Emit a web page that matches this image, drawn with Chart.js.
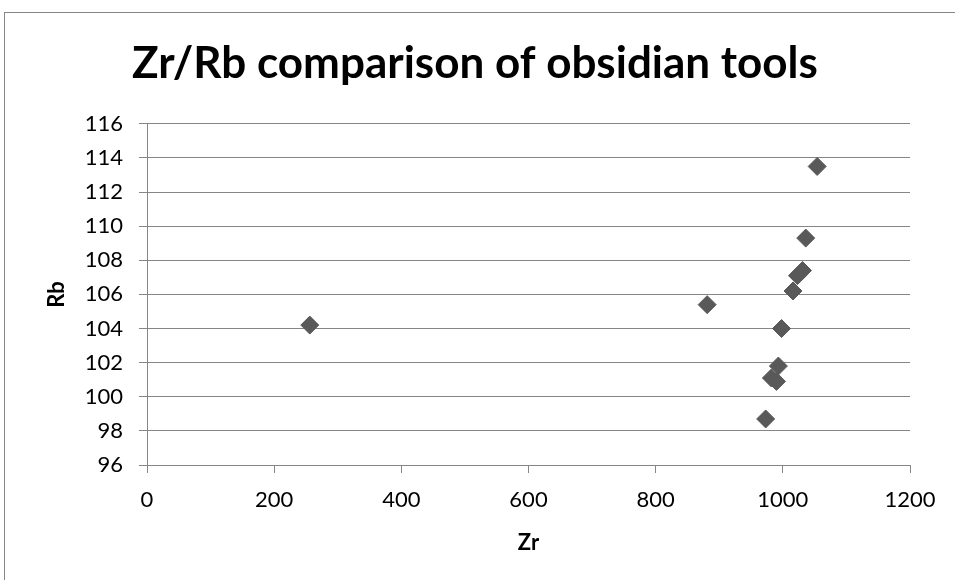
<!DOCTYPE html>
<html>
<head>
<meta charset="utf-8">
<script src="https://cdn.jsdelivr.net/npm/chart.js@4/dist/chart.umd.min.js"></script>
<style>
    html, body { margin: 0; padding: 0; background: #fff; overflow: hidden; }
    #wrap { position: relative; width: 955px; height: 580px; }
    #frame { position: absolute; left: 4px; top: 12px; width: 1200px; height: 800px; border: 1px solid #868686; }
    canvas { position: absolute; left: 0; top: 0; }
</style>
</head>
<body>
<div id="wrap">
    <div id="frame"></div>
    <canvas id="chart" width="955" height="580"></canvas>
</div>
<script>
// Zr / Rb readings, one entry per tool
const zrValues = [256, 881, 973, 982, 990, 993, 998, 1016, 1023, 1031, 1036, 1054];
const rbValues = [104.2, 105.4, 98.7, 101.1, 100.9, 101.8, 104.0, 106.2, 107.1, 107.4, 109.3, 113.5];

const xTicks = [0, 200, 400, 600, 800, 1000, 1200];
const yTicks = [96, 98, 100, 102, 104, 106, 108, 110, 112, 114, 116];

const fontFamily = 'Lato, "Open Sans", sans-serif';
const gridColor = '#868686';
const markerColor = '#595959';

const points = zrValues.map((x, i) => ({ x: x, y: rbValues[i] }));

const ctx = document.getElementById('chart').getContext('2d');
new Chart(ctx, {
    type: 'scatter',
    data: {
        datasets: [{
            label: 'Rb',
            data: points,
            pointStyle: 'rectRot',
            pointRadius: 9,
            pointHoverRadius: 9,
            backgroundColor: markerColor,
            borderColor: markerColor,
            borderWidth: 1
        }]
    },
    options: {
        responsive: false,
        animation: false,
        layout: {
            padding: { left: 40, right: 45, top: 0, bottom: 0 }
        },
        plugins: {
            legend: { display: false },
            tooltip: { enabled: false },
            title: {
                display: true,
                text: 'Zr/Rb comparison of obsidian tools',
                color: '#000',
                font: { family: fontFamily, size: 44, weight: 'bold' },
                padding: { top: 37, bottom: 34 }
            }
        },
        scales: {
            x: {
                type: 'linear',
                min: xTicks[0],
                max: xTicks[xTicks.length - 1],
                afterBuildTicks: function(scale) {
                    scale.ticks = xTicks.map(v => ({ value: v }));
                },
                afterFit: function(scale) {
                    scale.height = 115;
                },
                grid: {
                    drawOnChartArea: false,
                    drawTicks: true,
                    tickLength: 8,
                    color: gridColor
                },
                border: { display: true, color: gridColor },
                ticks: {
                    color: '#000',
                    padding: 14,
                    maxRotation: 0,
                    font: { family: fontFamily, size: 22 },
                    callback: function(value) {
                        return String(value);
                    }
                },
                title: {
                    display: true,
                    text: 'Zr',
                    color: '#000',
                    font: { family: fontFamily, size: 22, weight: 'bold' },
                    padding: { top: 0, bottom: 24 }
                }
            },
            y: {
                type: 'linear',
                min: yTicks[0],
                max: yTicks[yTicks.length - 1],
                afterBuildTicks: function(scale) {
                    scale.ticks = yTicks.map(v => ({ value: v }));
                },
                afterFit: function(scale) {
                    scale.width = 107;
                },
                grid: {
                    drawOnChartArea: true,
                    drawTicks: true,
                    tickLength: 8,
                    color: gridColor
                },
                border: { display: true, color: gridColor },
                ticks: {
                    color: '#000',
                    padding: 16,
                    font: { family: fontFamily, size: 22 },
                    callback: function(value) {
                        return String(value);
                    }
                },
                title: {
                    display: true,
                    text: 'Rb',
                    color: '#000',
                    font: { family: fontFamily, size: 22, weight: 'bold' },
                    padding: { top: 4, bottom: 0 }
                }
            }
        }
    }
});
</script>
</body>
</html>
